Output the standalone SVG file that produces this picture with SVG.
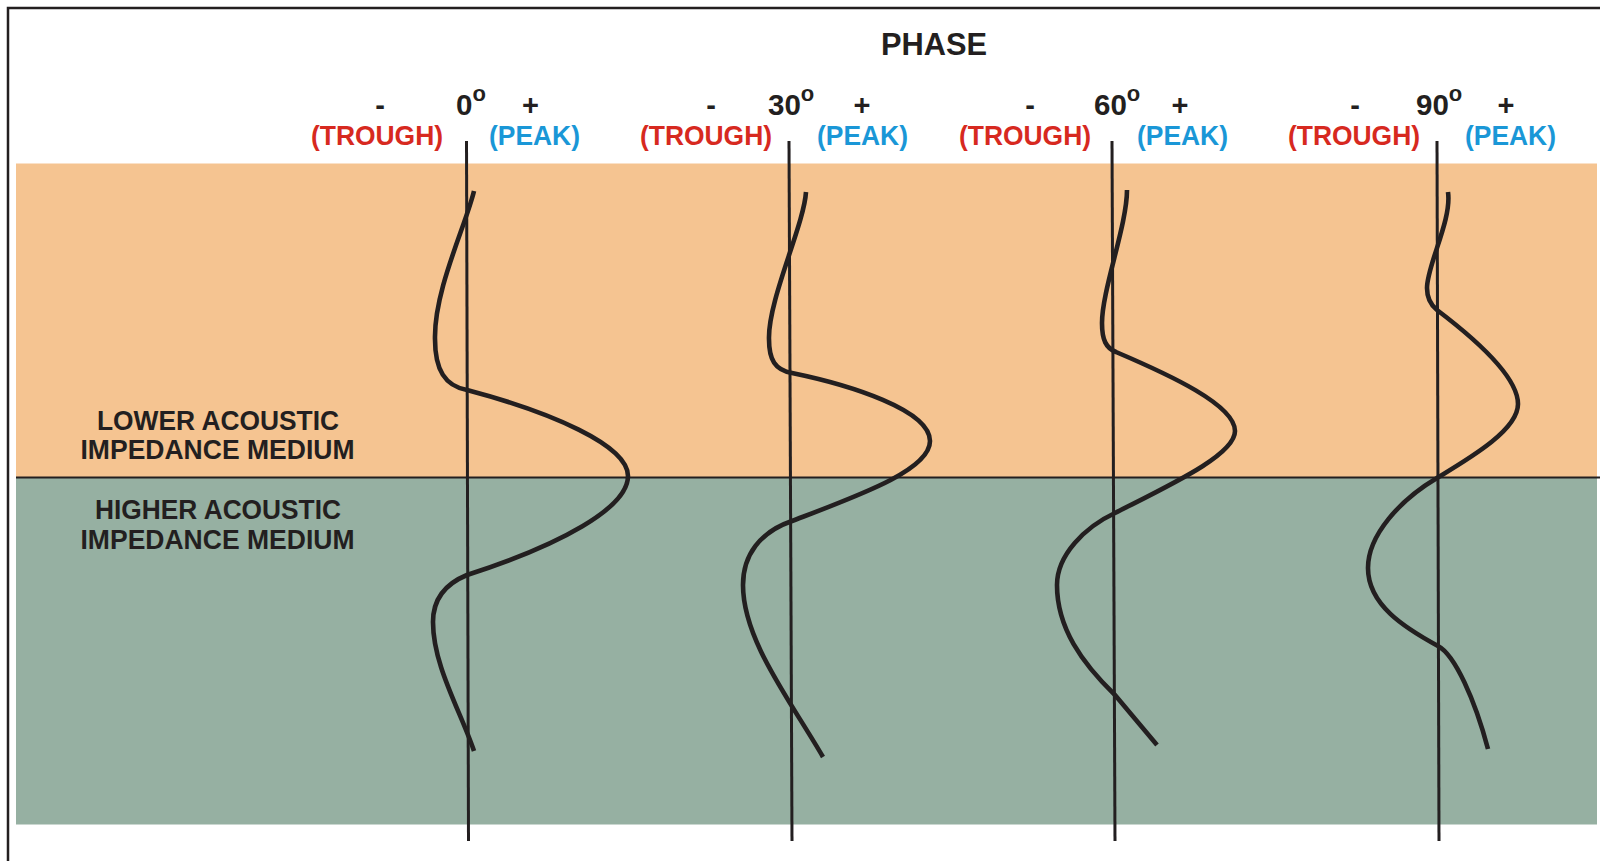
<svg xmlns="http://www.w3.org/2000/svg" width="1600" height="861" viewBox="0 0 1600 861">
<style>
  .t { font-family: "Liberation Sans", Arial, sans-serif; font-weight: bold; fill: #231F20; }
  .red { fill: #D7291F; }
  .blue { fill: #1A97D7; }
  .axis { stroke: #231F20; stroke-width: 3; fill: none; }
  .wave { stroke: #231F20; stroke-width: 4.6; fill: none; stroke-linejoin: round; }
</style>
<rect x="0" y="0" width="1600" height="861" fill="#FFFFFF"/>
<rect x="8" y="8" width="1600" height="900" fill="none" stroke="#231F20" stroke-width="2.5"/>
<g id="media">
  <rect id="lower-medium" x="16" y="163.5" width="1581" height="314" fill="#F5C491"/>
  <rect id="higher-medium" x="16" y="477.5" width="1581" height="347" fill="#96B0A2"/>
  <line x1="16" y1="477.5" x2="1600" y2="477.5" stroke="#231F20" stroke-width="2"/>
</g>
<g id="title">
  <text class="t" x="934" y="55" font-size="32" text-anchor="middle" textLength="106" lengthAdjust="spacingAndGlyphs">PHASE</text>
</g>
<g id="medium-labels">
  <text class="t" x="218" y="429.5" font-size="27.5" text-anchor="middle" textLength="242" lengthAdjust="spacingAndGlyphs">LOWER ACOUSTIC</text>
  <text class="t" x="217.5" y="458.5" font-size="27.5" text-anchor="middle" textLength="274" lengthAdjust="spacingAndGlyphs">IMPEDANCE MEDIUM</text>
  <text class="t" x="218" y="518.5" font-size="27.5" text-anchor="middle" textLength="246" lengthAdjust="spacingAndGlyphs">HIGHER ACOUSTIC</text>
  <text class="t" x="217.5" y="548.5" font-size="27.5" text-anchor="middle" textLength="274" lengthAdjust="spacingAndGlyphs">IMPEDANCE MEDIUM</text>
</g>
<g id="phase-0">
  <text class="t" x="380" y="115" font-size="29" text-anchor="middle">-</text>
  <text class="t" x="456" y="115" font-size="29.5">0<tspan font-size="22" dy="-14">o</tspan></text>
  <text class="t" x="530.5" y="115" font-size="29" text-anchor="middle">+</text>
  <text class="t red" x="311" y="145" font-size="28.5" textLength="132" lengthAdjust="spacingAndGlyphs">(TROUGH)</text>
  <text class="t blue" x="489" y="145" font-size="28.5" textLength="91" lengthAdjust="spacingAndGlyphs">(PEAK)</text>
</g>
<g id="phase-30">
  <text class="t" x="711" y="115" font-size="29" text-anchor="middle">-</text>
  <text class="t" x="768" y="115" font-size="29.5">30<tspan font-size="22" dy="-14">o</tspan></text>
  <text class="t" x="862" y="115" font-size="29" text-anchor="middle">+</text>
  <text class="t red" x="640" y="145" font-size="28.5" textLength="132" lengthAdjust="spacingAndGlyphs">(TROUGH)</text>
  <text class="t blue" x="817" y="145" font-size="28.5" textLength="91" lengthAdjust="spacingAndGlyphs">(PEAK)</text>
</g>
<g id="phase-60">
  <text class="t" x="1030" y="115" font-size="29" text-anchor="middle">-</text>
  <text class="t" x="1094" y="115" font-size="29.5">60<tspan font-size="22" dy="-14">o</tspan></text>
  <text class="t" x="1180" y="115" font-size="29" text-anchor="middle">+</text>
  <text class="t red" x="959" y="145" font-size="28.5" textLength="132" lengthAdjust="spacingAndGlyphs">(TROUGH)</text>
  <text class="t blue" x="1137" y="145" font-size="28.5" textLength="91" lengthAdjust="spacingAndGlyphs">(PEAK)</text>
</g>
<g id="phase-90">
  <text class="t" x="1355" y="115" font-size="29" text-anchor="middle">-</text>
  <text class="t" x="1416" y="115" font-size="29.5">90<tspan font-size="22" dy="-14">o</tspan></text>
  <text class="t" x="1506" y="115" font-size="29" text-anchor="middle">+</text>
  <text class="t red" x="1288" y="145" font-size="28.5" textLength="132" lengthAdjust="spacingAndGlyphs">(TROUGH)</text>
  <text class="t blue" x="1465" y="145" font-size="28.5" textLength="91" lengthAdjust="spacingAndGlyphs">(PEAK)</text>
</g>
<g id="axes">
  <line class="axis" x1="466.5" y1="141" x2="468.5" y2="841"/>
  <line class="axis" x1="789" y1="141" x2="792" y2="841"/>
  <line class="axis" x1="1112" y1="141" x2="1115" y2="841"/>
  <line class="axis" x1="1437" y1="141" x2="1439" y2="841"/>
</g>
<g id="wavelets">
  <path id="wave-0" class="wave" d="M474,191 C466,225 434,290 435,339 C435,370 445,386 467,390 C550,412 628,445 628,476 C628,508 560,545 467,575 C445,584 433,600 433,622 C433,665 460,710 474,751"/>
  <path id="wave-30" class="wave" d="M806,192 C804,225 768,300 769,339 C769,360 775,370 792,373 C850,385 930,410 930,441 C930,470 860,495 792,521 C760,532 743,555 743,585 C743,640 790,700 823,757"/>
  <path id="wave-60" class="wave" d="M1127,190 C1127,225 1102,290 1102,323 C1102,340 1106,348 1116,352 C1170,375 1235,405 1235,431 C1235,455 1170,485 1115,513 C1085,527 1057,555 1057,585 C1057,628 1082,663 1115,695 L1157,745"/>
  <path id="wave-90" class="wave" d="M1448,192 C1452,220 1427,265 1427,288 C1427,300 1432,306 1437,310 C1470,335 1518,375 1518,404 C1518,430 1470,458 1437,478 C1400,500 1368,535 1368,568 C1368,605 1405,628 1438,646 C1455,655 1475,700 1488,749"/>
</g>
</svg>
